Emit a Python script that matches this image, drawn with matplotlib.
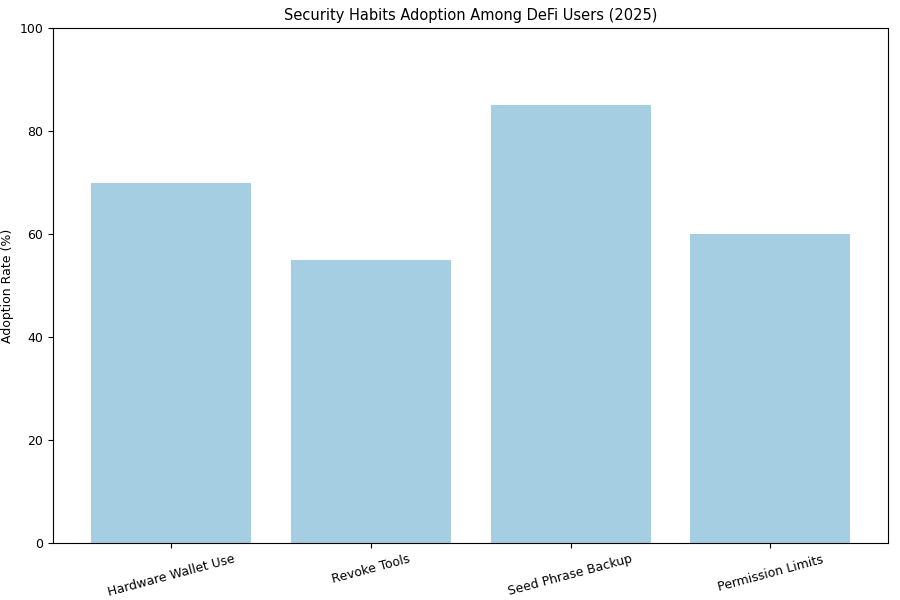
import matplotlib
matplotlib.use("Agg")
import matplotlib.pyplot as plt

categories = ["Hardware Wallet Use", "Revoke Tools", "Seed Phrase Backup", "Permission Limits"]
adoption = [70, 55, 85, 60]

plt.rcParams["font.size"] = 9
fig, ax = plt.subplots(figsize=(9, 6), dpi=100)
ax.bar(categories, adoption, color="#a6cee3")
ax.set_ylim(0, 100)
ax.set_ylabel("Adoption Rate (%)")
ax.set_title("Security Habits Adoption Among DeFi Users (2025)", fontsize=10.5)
plt.setp(ax.get_xticklabels(), rotation=15)
fig.subplots_adjust(left=0.059, right=0.987, top=0.953, bottom=0.095)
fig.savefig("out.png")
